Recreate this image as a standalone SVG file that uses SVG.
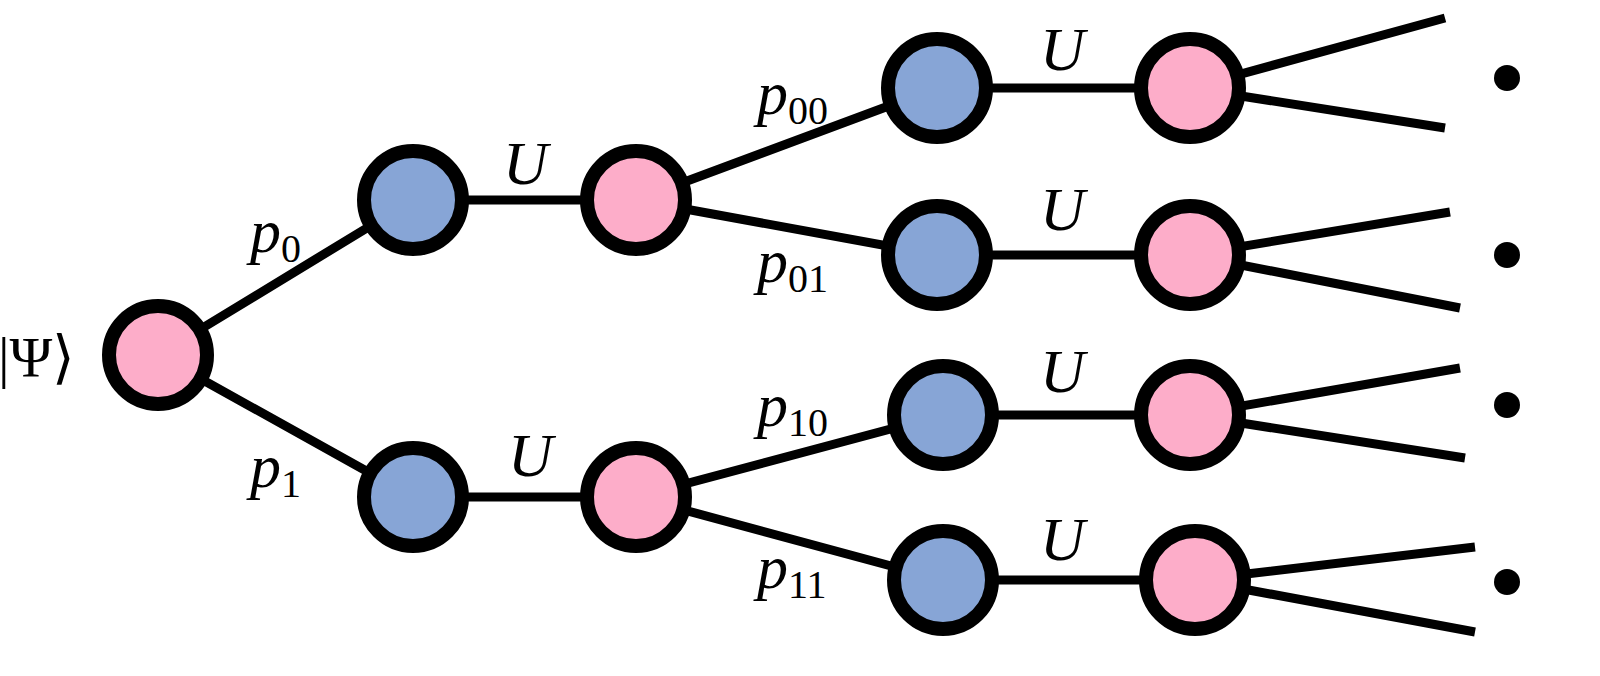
<svg xmlns="http://www.w3.org/2000/svg" width="1600" height="676" viewBox="0 0 1600 676">
<style>
.b{fill:#87a5d6;stroke:#000;stroke-width:14}
.p{fill:#fdadc9;stroke:#000;stroke-width:14}
.e{stroke:#000;stroke-width:9;fill:none}
.t{font-family:"Liberation Serif",serif;font-style:italic;font-size:62px;fill:#000}
.s{font-size:40px;font-style:normal}
.r{font-family:"Liberation Serif",serif;font-size:58px;fill:#000}
</style>
<rect width="1600" height="676" fill="#fff"/>
<g id="connectors">
<path class="e" d="M158 355L413 200M158 355L413 497M413 200H636M413 497H636M636 200L937 88M636 200L937 255M636 497L943 415M636 497L943 580M937 88H1190M937 255H1190M943 415H1190M943 580H1195"/>
<path class="e" d="M1190 88L1445 18M1190 88L1445 128M1190 255L1450 212M1190 255L1460 308M1190 415L1460 368M1190 415L1465 458M1195 580L1475 547M1195 580L1475 632"/>
</g>
<g id="root"><circle class="p" cx="158" cy="355" r="49"/><text class="r" x="-2" y="377">|Ψ⟩</text></g>
<g id="b0"><circle class="b" cx="413" cy="200" r="49"/></g>
<g id="q0"><circle class="p" cx="636" cy="200" r="49"/></g>
<g id="b1"><circle class="b" cx="413" cy="497" r="49"/></g>
<g id="q1"><circle class="p" cx="636" cy="497" r="49"/></g>
<g id="b00"><circle class="b" cx="937" cy="88" r="49"/></g>
<g id="q00"><circle class="p" cx="1190" cy="88" r="49"/></g>
<g id="b01"><circle class="b" cx="937" cy="255" r="49"/></g>
<g id="q01"><circle class="p" cx="1190" cy="255" r="49"/></g>
<g id="b10"><circle class="b" cx="943" cy="415" r="49"/></g>
<g id="q10"><circle class="p" cx="1190" cy="415" r="49"/></g>
<g id="b11"><circle class="b" cx="943" cy="580" r="49"/></g>
<g id="q11"><circle class="p" cx="1195" cy="580" r="49"/></g>
<g id="dots">
<circle cx="1507" cy="78" r="13"/><circle cx="1507" cy="255" r="13"/><circle cx="1507" cy="405" r="13"/><circle cx="1507" cy="582" r="13"/>
</g>
<g id="labels">
<text class="t" x="250" y="252">p<tspan class="s" dy="10">0</tspan></text>
<text class="t" x="250" y="487">p<tspan class="s" dy="10">1</tspan></text>
<text class="t" x="503" y="184">U</text>
<text class="t" x="508" y="476">U</text>
<text class="t" x="757" y="114">p<tspan class="s" dy="10">00</tspan></text>
<text class="t" x="757" y="282">p<tspan class="s" dy="10">01</tspan></text>
<text class="t" x="757" y="426">p<tspan class="s" dy="10">10</tspan></text>
<text class="t" x="757" y="588">p<tspan class="s" dy="10">11</tspan></text>
<text class="t" x="1040" y="70">U</text>
<text class="t" x="1040" y="230">U</text>
<text class="t" x="1040" y="392">U</text>
<text class="t" x="1040" y="560">U</text>
</g>
</svg>
